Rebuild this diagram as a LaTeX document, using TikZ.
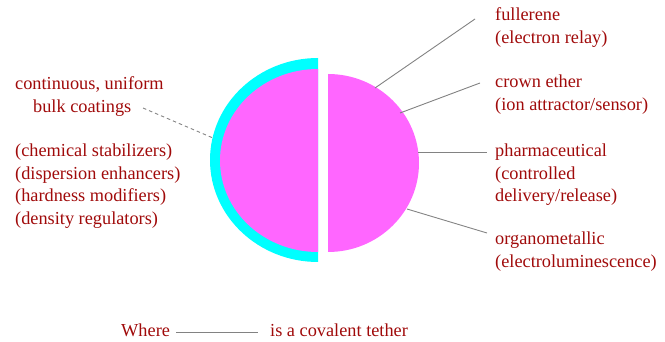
\documentclass[tikz,border=0pt]{standalone}
\usepackage{fontspec}
\setmainfont{Liberation Serif}
\definecolor{txtred}{RGB}{160,10,10}
\definecolor{linegray}{RGB}{130,130,130}
\definecolor{magfill}{RGB}{255,102,255}
\definecolor{cyanfill}{RGB}{0,255,255}
\begin{document}
\begin{tikzpicture}[x=1pt,y=-1pt,
  lbl/.style={anchor=base west,inner sep=0pt,text=txtred,font=\fontsize{18.3pt}{22.4pt}\selectfont},
  conn/.style={draw=linegray,line width=0.9pt},
  dashconn/.style={draw=linegray,line width=0.9pt,dash pattern=on 3.5pt off 3pt}]
\useasboundingbox (0,0) rectangle (665,342);
% left half: cyan coating and magenta core
\fill[cyanfill] (318,58) arc[start angle=-90,end angle=-270,x radius=108,y radius=102] -- cycle;
\fill[magfill] (318,69) arc[start angle=-90,end angle=-270,x radius=98,y radius=91.5] -- cycle;
% right half
\fill[magfill] (328,74) arc[start angle=-90,end angle=90,x radius=91,y radius=89] -- cycle;
% labels right
\node[lbl] (full) at (495,21) {\vtop{\hbox{fullerene}\hbox{(electron relay)}}};
\node[lbl] (crown) at (495,88) {\vtop{\hbox{crown ether}\hbox{(ion attractor/sensor)}}};
\node[lbl] (pharm) at (495,157) {\vtop{\hbox{pharmaceutical}\hbox{(controlled}\hbox{delivery/release)}}};
\node[lbl] (organo) at (495,245) {\vtop{\hbox{organometallic}\hbox{(electroluminescence)}}};
% labels left
\node[lbl] (bulk) at (15,90) {\vtop{\hbox{continuous, uniform}\hbox{\hspace{18pt}bulk coatings}}};
\node[lbl] (roles) at (15,157) {\vtop{\hbox{(chemical stabilizers)}\hbox{(dispersion enhancers)}\hbox{(hardness modifiers)}\hbox{(density regulators)}}};
% bottom legend
\node[lbl] (where) at (121,337) {Where};
\node[lbl] (tether) at (270,337) {is a covalent tether};
% connector end points
\coordinate (s1) at (375,88);
\coordinate (e1) at (475,19);
\coordinate (s2) at (400,113);
\coordinate (e2) at (480,83);
\coordinate (s3) at (418,152);
\coordinate (e3) at (487,152);
\coordinate (s4) at (407,209);
\coordinate (e4) at (487,233);
\coordinate (d1) at (143,108);
\coordinate (d2) at (213,138);
\coordinate (t1) at (176,332.5);
\coordinate (t2) at (258,332.5);
\draw[conn] (s1) -- (e1);
\draw[conn] (s2) -- (e2);
\draw[conn] (s3) -- (e3);
\draw[conn] (s4) -- (e4);
\draw[dashconn] (d1) -- (d2);
\draw[conn] (t1) -- (t2);
\end{tikzpicture}
\end{document}
